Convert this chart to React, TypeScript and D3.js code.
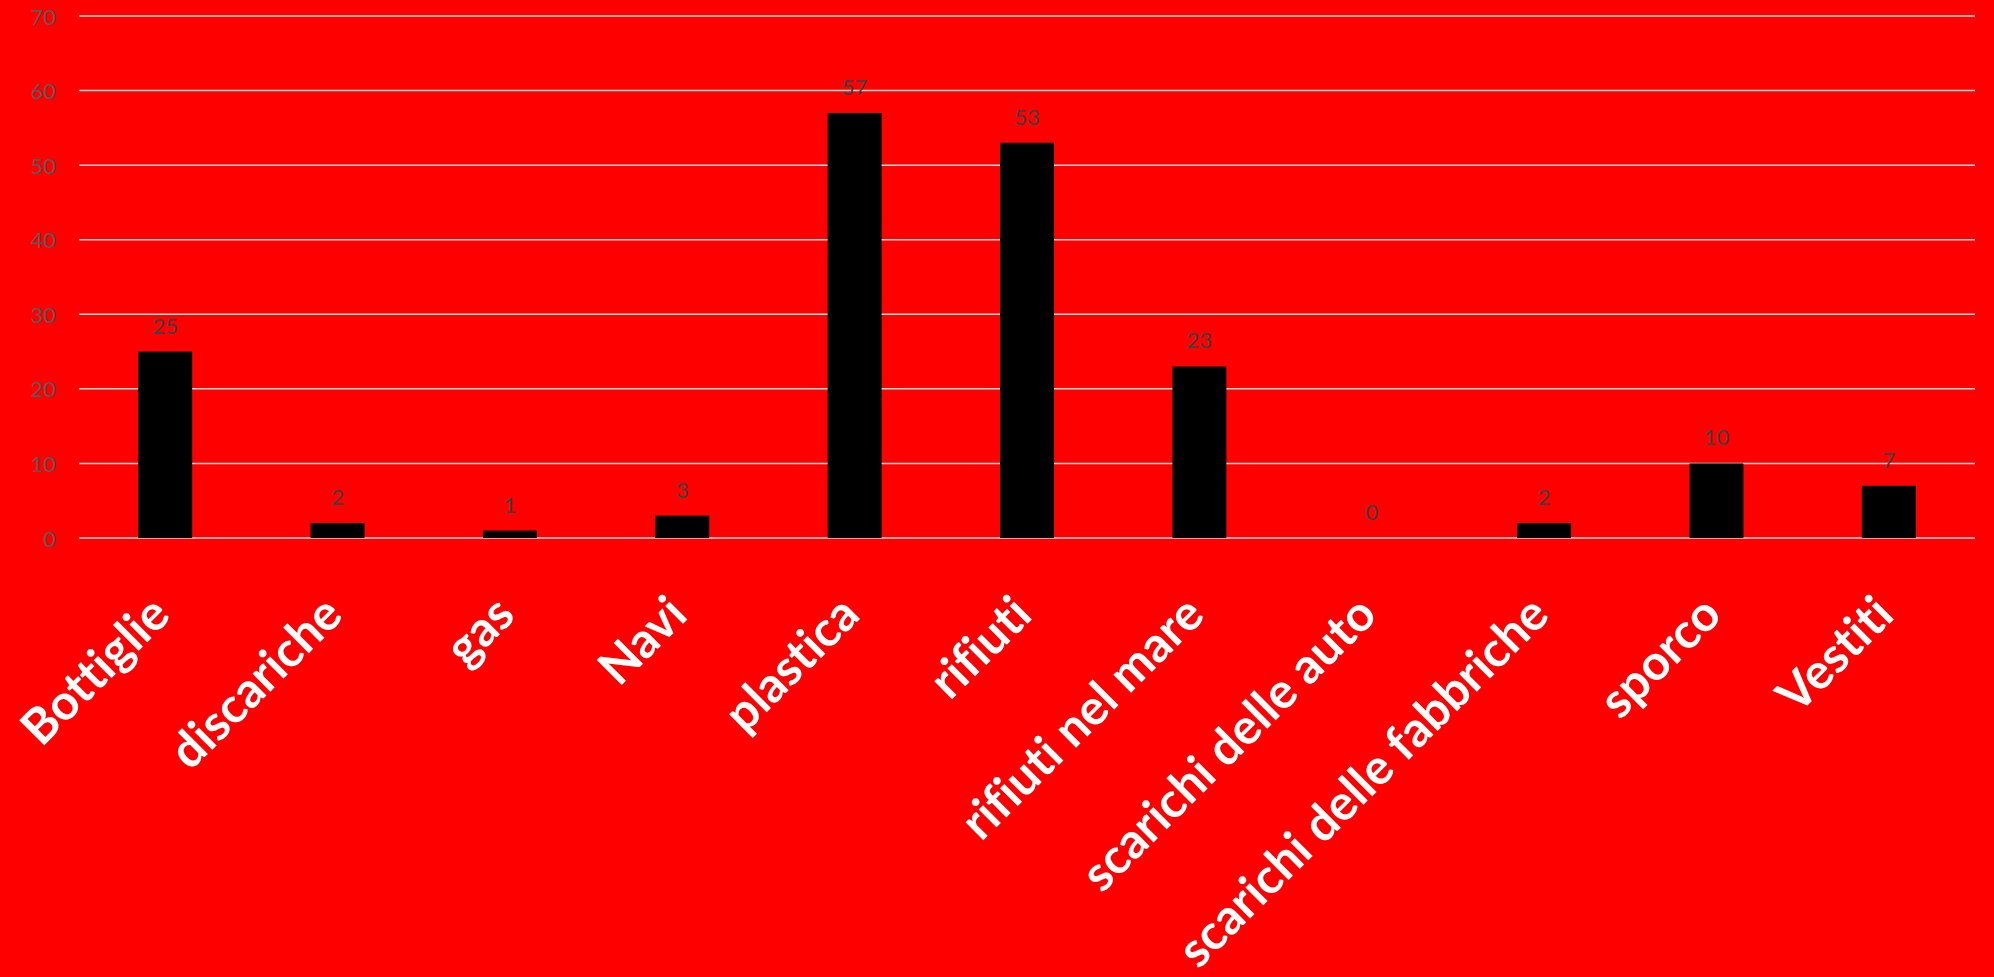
import React from "react";
import * as d3 from "d3";

const categories = [
  "Bottiglie",
  "discariche",
  "gas",
  "Navi",
  "plastica",
  "rifiuti",
  "rifiuti nel mare",
  "scarichi delle auto",
  "scarichi delle fabbriche",
  "sporco",
  "Vestiti",
];
const values = [25, 2, 1, 3, 57, 53, 23, 0, 2, 10, 7];
const yTicks = [0, 10, 20, 30, 40, 50, 60, 70];

const W = 1994;
const H = 977;
const left = 79;
const right = 1975;
const top = 16;
const bottom = 538;

export default function App() {
  const x = d3.scaleBand<string>().domain(categories).range([left, right]).paddingInner(0).paddingOuter(0);
  const y = d3.scaleLinear().domain([0, 70]).range([bottom, top]);
  const barW = x.bandwidth() * 0.313;
  const font = "Lato, 'Open Sans', sans-serif";

  return (
    <svg
      width={W}
      height={H}
      style={{ position: "absolute", left: 0, top: 0, display: "block" }}
    >
      <rect x={0} y={0} width={W} height={H} fill="#FF0000" />
      {yTicks.map((t) => (
        <g key={t}>
          <line x1={left} x2={right} y1={y(t)} y2={y(t)} stroke="#D9D9D9" strokeWidth={1.5} />
          <text
            x={56}
            y={y(t)}
            textAnchor="end"
            dominantBaseline="central"
            fontFamily={font}
            fontSize={22}
            fill="#595959"
          >
            {t}
          </text>
        </g>
      ))}
      {categories.map((c, i) => {
        const cx = (x(c) as number) + x.bandwidth() / 2;
        const v = values[i];
        return (
          <g key={c}>
            <rect x={cx - barW / 2} y={y(v)} width={barW} height={y(0) - y(v)} fill="#000000" />
            <text
              x={cx}
              y={y(v) - 18}
              textAnchor="middle"
              fontFamily={font}
              fontSize={22}
              fill="#404040"
            >
              {v}
            </text>
            <text
              transform={`translate(${cx - 20},${590}) rotate(-45)`}
              textAnchor="end"
              dominantBaseline="hanging"
              fontFamily={font}
              fontWeight="bold"
              fontSize={49}
              fill="#FFFFFF"
              style={{ fontVariantLigatures: "none" }}
            >
              {c}
            </text>
          </g>
        );
      })}
    </svg>
  );
}
